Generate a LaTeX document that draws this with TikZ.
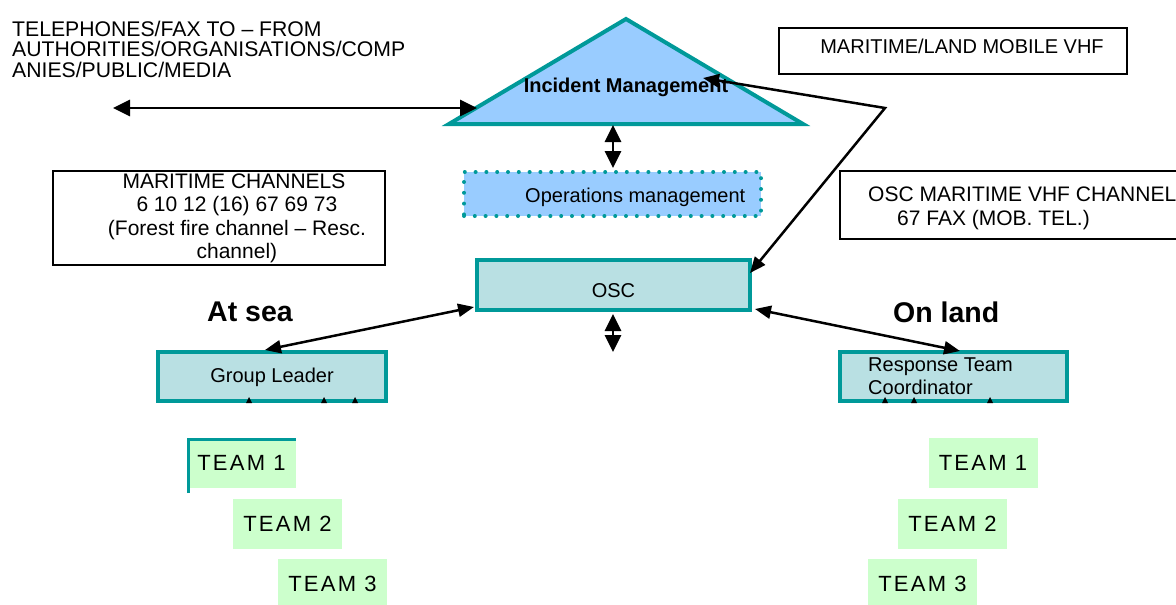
\documentclass[tikz,border=0pt]{standalone}
\usepackage{fontspec}
\setmainfont{Liberation Sans}
\newfontfamily\teamfont[LetterSpace=10]{Liberation Sans}
\usetikzlibrary{arrows.meta,calc}
\definecolor{teal1}{HTML}{009999}
\definecolor{skyb}{HTML}{99CCFF}
\definecolor{oscfill}{HTML}{B9E0E3}
\definecolor{teamg}{HTML}{CCFFCC}
\begin{document}
\begin{tikzpicture}[x=1pt,y=-1pt,
  txt/.style={font=\fontsize{20}{20.5}\selectfont, inner sep=0pt},
  txtl/.style={font=\fontsize{21.2}{20.5}\selectfont, inner sep=0pt},
  txtb/.style={font=\fontsize{21}{23.2}\selectfont, inner sep=0pt},
  frame/.style={draw=black, line width=2pt, inner sep=0pt},
  tbox/.style={draw=teal1, line width=4pt, fill=oscfill, inner sep=0pt},
  team/.style={fill=teamg, minimum width=109pt, minimum height=50pt, inner sep=0pt, font=\teamfont\fontsize{22}{22}\selectfont},
  dbl/.style={line width=2.8pt, {Triangle[length=17pt,width=16pt]}-{Triangle[length=17pt,width=16pt]}},
  dbls/.style={line width=2.5pt, {Triangle[length=16pt,width=13pt]}-{Triangle[length=16pt,width=13pt]}},
  hd/.style={font=\bfseries\fontsize{28.5}{28.5}\selectfont, inner sep=0pt}
]
\useasboundingbox (0,0) rectangle (1176,605);

% Incident management triangle
\coordinate (apex) at (626,19);
\coordinate (bl) at (449,124);
\coordinate (br) at (803,124);
\draw[teal1, line width=4pt, fill=skyb, line join=miter] (apex) -- (bl) -- (br) -- cycle;
\node[txt, font=\bfseries\fontsize{20}{20.5}\selectfont, anchor=base] (im) at (626,92) {Incident Management};

% top-left text
\node[txtl, anchor=north west, align=left] (tel) at (12,20.5)
  {TELEPHONES/FAX TO – FROM\\AUTHORITIES/ORGANISATIONS/COMP\\ANIES/PUBLIC/MEDIA};

% framed boxes
\node[frame, minimum width=348pt, minimum height=46pt] (mlmv) at (953,51) {};
\node[txt, anchor=base] (mlmvt) at (962,53) {MARITIME/LAND MOBILE VHF};

\node[frame, minimum width=332pt, minimum height=94pt] (mc) at (219,218) {};
\node[txtb, anchor=north, align=center] (mct) at (234,173.8)
  {MARITIME CHANNELS\\ \ 6 10 12 (16) 67 69 73\\ \ (Forest fire channel – Resc.\\ \ channel)};

\node[frame, minimum width=350pt, minimum height=68pt] (omv) at (1015,205) {};
\node[txtb, anchor=north west, align=left] (omvt) at (868,187)
  {OSC MARITIME VHF CHANNEL\\\hspace*{29pt}67 FAX (MOB. TEL.)};

% operations management
\node[draw=teal1, line width=4pt, line cap=round, dash pattern=on 0pt off 10.8pt, fill=skyb,
      minimum width=297pt, minimum height=44pt, inner sep=0pt] (ops) at (612.5,194) {};
\node[txt, anchor=base west] (opst) at (525,202) {Operations management};

% OSC
\node[tbox, minimum width=273pt, minimum height=50pt] (osc) at (613.5,285) {};
\node[txt, anchor=base] (osct) at (613.5,297) {OSC};

% headings
\node[hd, anchor=base west] (sea) at (207,321) {At sea};
\node[hd, anchor=base west] (land) at (893,322) {On land};

% group leader / response team coordinator
\node[tbox, minimum width=228pt, minimum height=49pt] (gl) at (272,376.5) {};
\node[txt, anchor=base] (glt) at (272,382) {Group Leader};
\node[tbox, minimum width=227pt, minimum height=49pt] (rtc) at (953.5,376.5) {};
\node[font=\fontsize{20}{23.2}\selectfont, inner sep=0pt, anchor=north west, align=left] (rtct) at (868,357.7) {Response Team\\Coordinator};

% small arrowheads under the boxes
\foreach \x in {249,324,355,885,914,990}{
  \fill (\x-3,403) -- (\x,397) -- (\x+3,403) -- cycle;
}

% teams
\node[team] (lt1) at (241.5,463) {TEAM 1};
\node[team] (lt2) at (287.5,523.5) {TEAM 2};
\node[team] (lt3) at (332.5,584) {TEAM 3};
\node[team] (rt1) at (983,463) {TEAM 1};
\node[team] (rt2) at (952.5,523.5) {TEAM 2};
\node[team] (rt3) at (922.5,584) {TEAM 3};
\draw[teal1, line width=3pt] ([shift={(1.5,5)}]lt1.south west) |- ([shift={(0,1.5)}]lt1.north east);

% connectors
\coordinate (telL) at (113,108);
\coordinate (triW) at (477,108);
\draw[dbl] (telL) -- (triW);
\coordinate (triB) at (613,125);
\draw[dbl] (triB) -- ([shift={(0,-2)}]triB |- ops.north);
\coordinate (oscB) at (613,352);
\draw[dbl] ([shift={(0,2)}]oscB |- osc.south) -- (oscB);
\coordinate (imT) at (703,78);
\coordinate (corner) at (885,108);
\draw[dbls, line join=miter] (imT) -- (corner) -- ([shift={(-2,15)}]osc.north east);
\draw[dbls] ([shift={(-1,-5)}]osc.south west) -- ([shift={(-7,0)}]gl.north);
\draw[dbls] ([shift={(3,-3)}]osc.south east) -- ([shift={(6.5,1)}]rtc.north);
\end{tikzpicture}
\end{document}
